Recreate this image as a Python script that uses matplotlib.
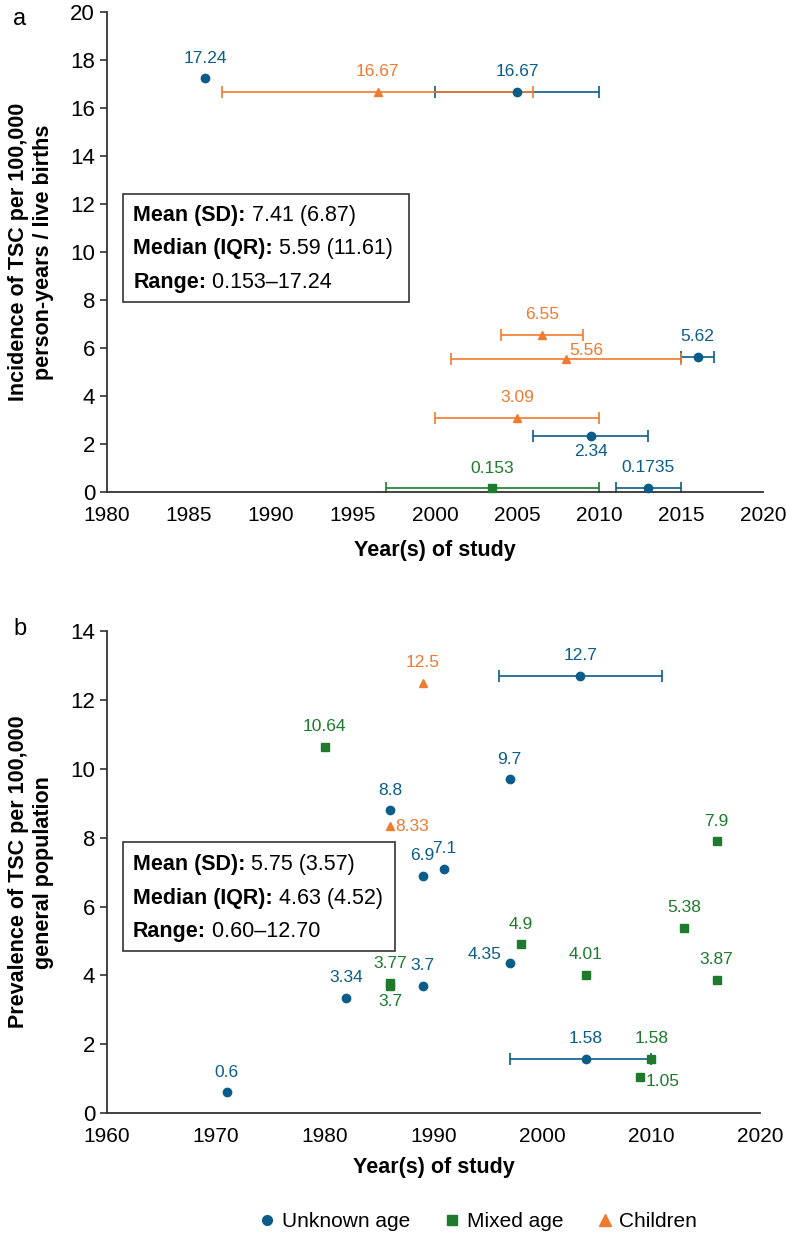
import numpy as np
import matplotlib.pyplot as plt
from matplotlib.lines import Line2D
from matplotlib.patches import Rectangle

plt.rcParams['font.family'] = ['Liberation Sans', 'DejaVu Sans']

BLUE = '#0b5d89'
GREEN = '#1e7a2c'
ORANGE = '#f07a2e'

# ---- panel a: incidence ----
inc_unk_year = [1986, 2005, 2016, 2009.5, 2013]
inc_unk_val = [17.24, 16.67, 5.62, 2.34, 0.1735]
inc_unk_start = [np.nan, 2000, 2015, 2006, 2011]
inc_unk_end = [np.nan, 2010, 2017, 2013, 2015]
inc_unk_lab = ['17.24', '16.67', '5.62', '2.34', '0.1735']

inc_mix_year = [2003.5]
inc_mix_val = [0.153]
inc_mix_start = [1997]
inc_mix_end = [2010]
inc_mix_lab = ['0.153']

inc_chi_year = [1996.5, 2006.5, 2008, 2005]
inc_chi_val = [16.67, 6.55, 5.56, 3.09]
inc_chi_start = [1987, 2004, 2001, 2000]
inc_chi_end = [2006, 2009, 2015, 2010]
inc_chi_lab = ['16.67', '6.55', '5.56', '3.09']

# ---- panel b: prevalence ----
prev_unk_year = [1971, 1982, 1989, 1986, 1989, 1991, 1997, 1997, 2003.5, 2004]
prev_unk_val = [0.6, 3.34, 3.7, 8.8, 6.9, 7.1, 9.7, 4.35, 12.7, 1.58]
prev_unk_start = [np.nan] * 8 + [1996, 1997]
prev_unk_end = [np.nan] * 8 + [2011, 2010]
prev_unk_lab = ['0.6', '3.34', '3.7', '8.8', '6.9', '7.1', '9.7', '4.35', '12.7', '1.58']

prev_mix_year = [1980, 1986, 1986, 1998, 2004, 2013, 2016, 2016, 2010, 2009]
prev_mix_val = [10.64, 3.77, 3.7, 4.9, 4.01, 5.38, 7.9, 3.87, 1.58, 1.05]
prev_mix_lab = ['10.64', '3.77', '3.7', '4.9', '4.01', '5.38', '7.9', '3.87', '1.58', '1.05']

prev_chi_year = [1989, 1986]
prev_chi_val = [12.5, 8.33]
prev_chi_lab = ['12.5', '8.33']

# label placement (styling only)
OFF = {'up': ((0, 14.5), 'center', 'center'),
       'down': ((0, -11.5), 'center', 'center'),
       'right': ((3.5, 0), 'left', 'center'),
       'upright': ((2, 6), 'left', 'center'),
       'downright': ((4, -3.5), 'left', 'center'),
       'upleft': ((-6, 6), 'right', 'center')}
inc_unk_pos = ['up', 'up', 'up', 'down', 'up']
inc_mix_pos = ['up']
inc_chi_pos = ['up', 'up', 'upright', 'up']
prev_unk_pos = ['up', 'up', 'up', 'up', 'up', 'up', 'up', 'upleft', 'up', 'up']
prev_mix_pos = ['up', 'up', 'down', 'up', 'up', 'up', 'up', 'up', 'up', 'downright']
prev_chi_pos = ['up', 'right']


def draw(ax, yr, val, lab, pos, color, marker, ms, start=None, end=None):
    yr = np.array(yr, float)
    val = np.array(val, float)
    if start is not None:
        s = np.array(start, float)
        e = np.array(end, float)
        m = ~np.isnan(s)
        ax.errorbar(yr[m], val[m], xerr=[yr[m] - s[m], e[m] - yr[m]], fmt='none',
                    ecolor=color, elinewidth=1.2, capsize=4, capthick=1.2, zorder=2)
    ax.plot(yr, val, linestyle='none', marker=marker, color=color, ms=ms, zorder=3,
            clip_on=False)
    for x, y, t, p in zip(yr, val, lab, pos):
        off, ha, va = OFF[p]
        ax.annotate(t, (x, y), xytext=off, textcoords='offset points', ha=ha, va=va,
                    color=color, fontsize=12.5)


def stats_box(ax, x0, y0, x1, y1, lines, ys):
    ax.add_patch(Rectangle((x0, y0), x1 - x0, y1 - y0, transform=ax.transAxes,
                           fill=False, edgecolor='#333333', lw=1.2, zorder=4))
    for (b, n), y in zip(lines, ys):
        t = ax.text(x0 + 0.016, y, b, transform=ax.transAxes, fontsize=15.5,
                    fontweight='bold', va='center', ha='left')
        ax.annotate(' ' + n, xy=(1, 0.5), xycoords=t, va='center', ha='left',
                    fontsize=15.5)


def style(ax):
    for s in ['top', 'right']:
        ax.spines[s].set_visible(False)
    for s in ['left', 'bottom']:
        ax.spines[s].set_color('#333333')
        ax.spines[s].set_linewidth(1.3)
    ax.tick_params(axis='y', length=5, width=1.2, color='#333333', labelsize=16)
    ax.tick_params(axis='x', length=0, labelsize=15, pad=10)


fig = plt.figure(figsize=(7.86, 12.35), dpi=100)

ax1 = fig.add_axes([0.136, 0.6016, 0.835, 0.3887])
draw(ax1, inc_unk_year, inc_unk_val, inc_unk_lab, inc_unk_pos, BLUE, 'o', 6,
     inc_unk_start, inc_unk_end)
draw(ax1, inc_mix_year, inc_mix_val, inc_mix_lab, inc_mix_pos, GREEN, 's', 5.5,
     inc_mix_start, inc_mix_end)
draw(ax1, inc_chi_year, inc_chi_val, inc_chi_lab, inc_chi_pos, ORANGE, '^', 6,
     inc_chi_start, inc_chi_end)
ax1.set_xlim(1980, 2020)
ax1.set_ylim(0, 20)
ax1.set_xticks(range(1980, 2021, 5))
ax1.set_yticks(range(0, 21, 2))
style(ax1)
ax1.set_xlabel('Year(s) of study', fontsize=15.5, fontweight='bold', labelpad=11)
ax1.set_ylabel('Incidence of TSC per 100,000\nperson-years / live births',
               fontsize=15.5, fontweight='bold', labelpad=12)
stats_box(ax1, 0.024, 0.396, 0.46, 0.621,
          [('Mean (SD):', '7.41 (6.87)'), ('Median (IQR):', '5.59 (11.61)'),
           ('Range:', '0.153–17.24')], [0.577, 0.508, 0.4375])
fig.text(0.017, 0.985, 'a', fontsize=17, va='center')

ax2 = fig.add_axes([0.136, 0.0988, 0.831, 0.390])
draw(ax2, prev_unk_year, prev_unk_val, prev_unk_lab, prev_unk_pos, BLUE, 'o', 6,
     prev_unk_start, prev_unk_end)
draw(ax2, prev_mix_year, prev_mix_val, prev_mix_lab, prev_mix_pos, GREEN, 's', 5.5)
draw(ax2, prev_chi_year, prev_chi_val, prev_chi_lab, prev_chi_pos, ORANGE, '^', 6)
ax2.set_xlim(1960, 2020)
ax2.set_ylim(0, 14)
ax2.set_xticks(range(1960, 2021, 10))
ax2.set_yticks(range(0, 15, 2))
style(ax2)
ax2.set_xlabel('Year(s) of study', fontsize=15.5, fontweight='bold', labelpad=8)
ax2.set_ylabel('Prevalence of TSC per 100,000\ngeneral population',
               fontsize=15.5, fontweight='bold', labelpad=12)
stats_box(ax2, 0.024, 0.336, 0.441, 0.562,
          [('Mean (SD):', '5.75 (3.57)'), ('Median (IQR):', '4.63 (4.52)'),
           ('Range:', '0.60–12.70')], [0.515, 0.446, 0.376])
fig.text(0.017, 0.491, 'b', fontsize=17, va='center')

handles = [Line2D([], [], ls='none', marker='o', color=BLUE, ms=7, label='Unknown age'),
           Line2D([], [], ls='none', marker='s', color=GREEN, ms=7, label='Mixed age'),
           Line2D([], [], ls='none', marker='^', color=ORANGE, ms=8, label='Children')]
fig.legend(handles=handles, loc='center', bbox_to_anchor=(0.607, 0.011), ncol=3,
           frameon=False, fontsize=15, handletextpad=0.2, columnspacing=1.5,
           handlelength=1.0)

fig.savefig('out.png', dpi=100)
